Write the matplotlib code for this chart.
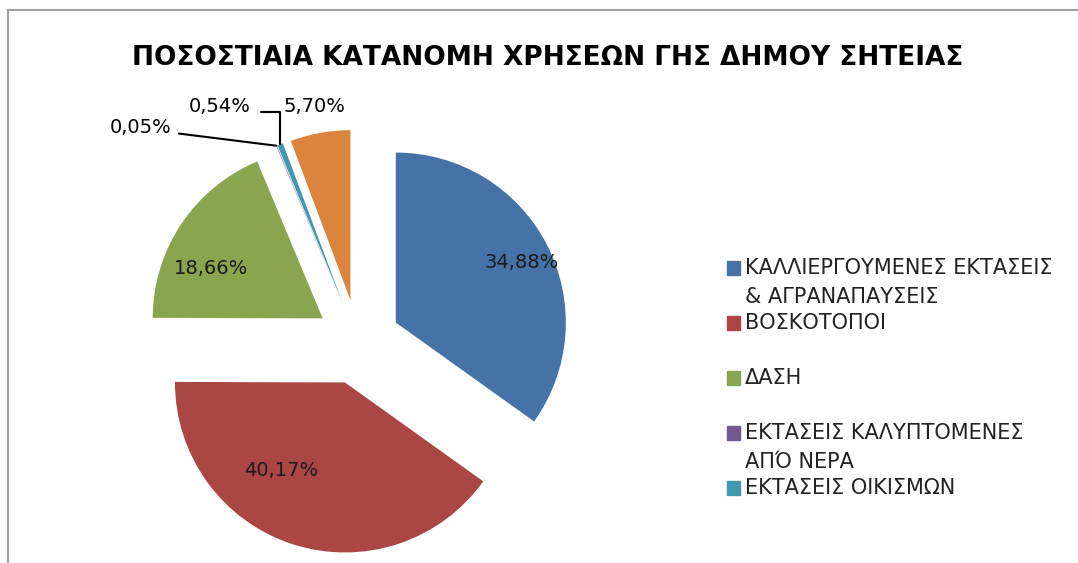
import matplotlib
matplotlib.use('Agg')
import matplotlib.pyplot as plt
import numpy as np
from matplotlib.patches import Rectangle
from matplotlib.lines import Line2D

# data (percent of municipality area)
categories = ['ΚΑΛΛΙΕΡΓΟΥΜΕΝΕΣ ΕΚΤΑΣΕΙΣ\n& ΑΓΡΑΝΑΠΑΥΣΕΙΣ',
              'ΒΟΣΚΟΤΟΠΟΙ',
              'ΔΑΣΗ',
              'ΕΚΤΑΣΕΙΣ ΚΑΛΥΠΤΟΜΕΝΕΣ\nΑΠΌ ΝΕΡΑ',
              'ΕΚΤΑΣΕΙΣ ΟΙΚΙΣΜΩΝ',
              'ΛΟΙΠΑ']
values = [34.88, 40.17, 18.66, 0.05, 0.54, 5.70]
colors = ['#4572A7', '#AA4643', '#89A54E', '#71588F', '#4198AF', '#DB843D']
title = 'ΠΟΣΟΣΤΙΑΙΑ ΚΑΤΑΝΟΜΗ ΧΡΗΣΕΩΝ ΓΗΣ ΔΗΜΟΥ ΣΗΤΕΙΑΣ'

W, H = 1078, 563
R = 170  # pie radius in pixels
cx, cy = 358, 342  # pie centre, pixels from top-left

fig = plt.figure(figsize=(W / 100, H / 100), dpi=100)

def fx(px):
    return px / W

def fy(py):
    return 1 - py / H

def fmt(v):
    return ('%.2f%%' % v).replace('.', ',')

# axes sized so that one data unit = R pixels
ax = fig.add_axes([fx(cx - 1.5 * R), 0, 3 * R / W, 2.9 * R / H])

wedges, _, autotexts = ax.pie(values, colors=colors, explode=[0.25] * len(values),
                              startangle=90, counterclock=False,
                              autopct=lambda v: fmt(v) if v > 10 else '',
                              pctdistance=0.72,
                              wedgeprops=dict(linewidth=0),
                              textprops=dict(fontsize=14, color='#1a1a1a'))
ax.set_aspect('auto')
ax.set_xlim(-1.5, 1.5)
ax.set_ylim(-1.3, 1.6)
ax.axis('off')

def d(px, py):
    return ((px - cx) / R, (cy - py) / R)

# nudge inner labels to where Excel put them
for t, pos in zip(autotexts[:3], [(522, 262), (281, 470), (211, 268)]):
    t.set_position(d(*pos))

def outer(w):
    a = np.deg2rad((w.theta1 + w.theta2) / 2)
    return (w.center[0] + w.r * np.cos(a), w.center[1] + w.r * np.sin(a))

# small slices get outside labels
ax.annotate(fmt(values[3]), xy=outer(wedges[3]), xytext=d(172, 127),
            ha='right', va='center', fontsize=14, annotation_clip=False,
            arrowprops=dict(arrowstyle='-', color='black', lw=1.5,
                            relpos=(1.0, 0.2), shrinkA=3, shrinkB=0))
ax.annotate(fmt(values[4]), xy=outer(wedges[4]), xytext=d(251, 106),
            ha='right', va='center', fontsize=14, annotation_clip=False,
            arrowprops=dict(arrowstyle='-', color='black', lw=1.5,
                            relpos=(1.0, 0.2), shrinkA=5, shrinkB=0,
                            connectionstyle='angle,angleA=0,angleB=90,rad=0'))
ax.text(*d(314, 106), fmt(values[5]), ha='center', va='center', fontsize=14)

fig.text(fx(548), fy(58), title, ha='center', va='center',
         fontsize=19, fontweight='bold')

# legend (last category not shown in the original)
for i, (lab, col) in enumerate(zip(categories[:5], colors[:5])):
    y0 = 268 + i * 55
    fig.patches.append(Rectangle((fx(727), fy(y0 + 7)), 13 / W, 14 / H,
                                 transform=fig.transFigure, color=col))
    for j, line in enumerate(lab.split('\n')):
        fig.text(fx(745), fy(y0 + j * 29), line, ha='left', va='center',
                 fontsize=15, color='#222222')

# chart border
fig.lines.append(Line2D([fx(8), 1], [fy(10), fy(10)], transform=fig.transFigure,
                        color='#a0a0a0', lw=1.5))
fig.lines.append(Line2D([fx(8), fx(8)], [fy(10), 0], transform=fig.transFigure,
                        color='#a0a0a0', lw=1.5))

fig.savefig('out.png', dpi=100)
